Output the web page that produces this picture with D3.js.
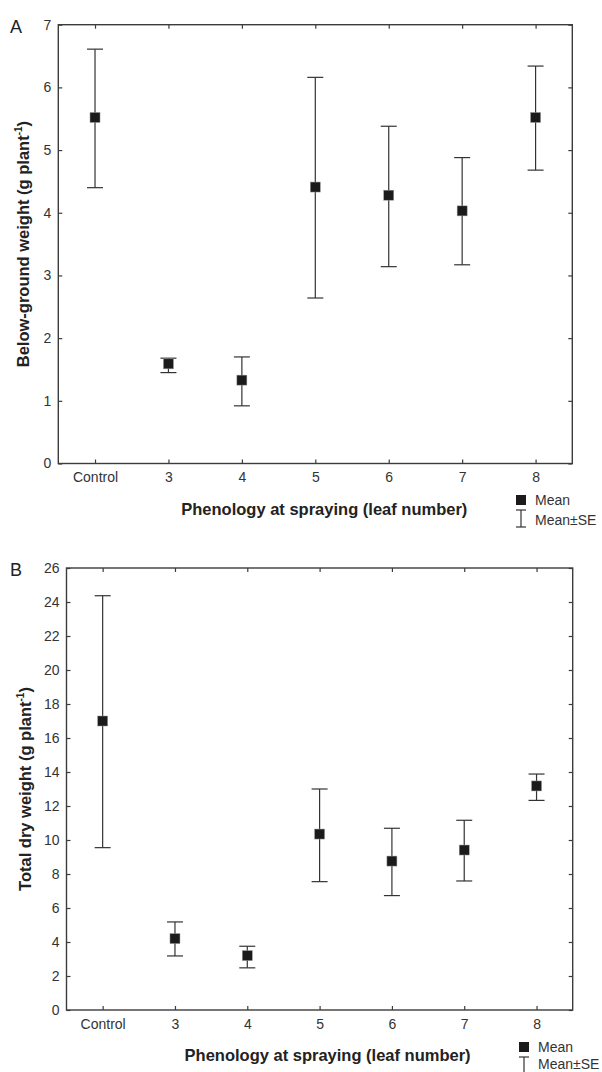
<!DOCTYPE html>
<html>
<head>
<meta charset="utf-8">
<script src="https://cdn.jsdelivr.net/npm/d3@7"></script>
<style>
  body { margin: 0; background: #fff; }
  svg { display: block; font-family: Arial, "Liberation Sans", sans-serif; }
  .tick text { fill: #333; font-size: 14px; }
  .tick line { stroke: #3c3c3c; stroke-width: 1.2; }
  .axis path.domain { display: none; }
</style>
</head>
<body>
<svg id="chart" width="602" height="1072"></svg>
<script>
// categories on the x axis (leaf number at spraying)
var categories = ['Control', '3', '4', '5', '6', '7', '8'];

// panel A: below-ground weight
var belowMean = [5.52, 1.59, 1.33, 4.41, 4.28, 4.03, 5.52];
var belowLow  = [4.40, 1.45, 0.92, 2.64, 3.14, 3.17, 4.68];
var belowHigh = [6.61, 1.68, 1.70, 6.16, 5.38, 4.88, 6.34];
var belowTicks = [0, 1, 2, 3, 4, 5, 6, 7];

// panel B: total dry weight
var totalMean = [17.0, 4.2, 3.2, 10.35, 8.76, 9.41, 13.18];
var totalLow  = [9.55, 3.18, 2.48, 7.55, 6.73, 7.59, 12.33];
var totalHigh = [24.37, 5.18, 3.75, 13.0, 10.69, 11.16, 13.88];
var totalTicks = [0, 2, 4, 6, 8, 10, 12, 14, 16, 18, 20, 22, 24, 26];

var svg = d3.select('#chart');

function drawPanel(p) {
    var x = d3.scalePoint().domain(categories).range([p.left, p.right]).padding(0.5);
    var y = d3.scaleLinear().domain([0, p.ticks[p.ticks.length - 1]]).range([p.bottom, p.top]);

    var g = svg.append('g');

    // ticks on all four sides, pointing inward
    g.append('g').attr('class', 'axis')
        .attr('transform', 'translate(' + p.left + ',0)')
        .call(d3.axisLeft(y).tickValues(p.ticks).tickFormat(d3.format('d'))
            .tickSizeInner(-4).tickSizeOuter(0).tickPadding(7));
    g.append('g').attr('class', 'axis')
        .attr('transform', 'translate(' + p.right + ',0)')
        .call(d3.axisRight(y).tickValues(p.ticks).tickSizeInner(-4).tickSizeOuter(0).tickFormat(''));
    g.append('g').attr('class', 'axis')
        .attr('transform', 'translate(0,' + p.bottom + ')')
        .call(d3.axisBottom(x).tickSizeInner(-4).tickSizeOuter(0).tickPadding(9));
    g.append('g').attr('class', 'axis')
        .attr('transform', 'translate(0,' + p.top + ')')
        .call(d3.axisTop(x).tickSizeInner(-4).tickSizeOuter(0).tickFormat(''));

    g.append('rect')
        .attr('x', p.left).attr('y', p.top)
        .attr('width', p.right - p.left).attr('height', p.bottom - p.top)
        .attr('fill', 'none').attr('stroke', '#3c3c3c').attr('stroke-width', 1.4);

    var rows = categories.map(function(c, i) {
        return {cat: c, mean: p.mean[i], low: p.low[i], high: p.high[i]};
    });

    var pt = g.selectAll('g.pt').data(rows).enter().append('g').attr('class', 'pt');
    pt.append('line')
        .attr('x1', function(d) { return x(d.cat); })
        .attr('x2', function(d) { return x(d.cat); })
        .attr('y1', function(d) { return y(d.low); })
        .attr('y2', function(d) { return y(d.high); })
        .attr('stroke', '#333').attr('stroke-width', 1.2);
    ['low', 'high'].forEach(function(k) {
        pt.append('line')
            .attr('x1', function(d) { return x(d.cat) - 8; })
            .attr('x2', function(d) { return x(d.cat) + 8; })
            .attr('y1', function(d) { return y(d[k]); })
            .attr('y2', function(d) { return y(d[k]); })
            .attr('stroke', '#333').attr('stroke-width', 1.2);
    });
    pt.append('rect')
        .attr('x', function(d) { return x(d.cat) - 5; })
        .attr('y', function(d) { return y(d.mean) - 5; })
        .attr('width', 10).attr('height', 10)
        .attr('fill', '#1c1a1b').attr('stroke', '#999').attr('stroke-width', 0.5);

    // titles
    g.append('text')
        .attr('x', (p.left + p.right) / 2 + p.xTitleShift).attr('y', p.bottom + 51)
        .attr('text-anchor', 'middle').attr('font-weight', 'bold').attr('font-size', 16.5).attr('fill', '#222')
        .text('Phenology at spraying (leaf number)');

    var yt = g.append('text')
        .attr('transform', 'translate(' + p.yTitleX + ',' + ((p.top + p.bottom) / 2) + ') rotate(-90)')
        .attr('text-anchor', 'middle').attr('font-weight', 'bold').attr('font-size', 16.5).attr('fill', '#222');
    yt.append('tspan').text(p.yTitle + ' (g plant');
    yt.append('tspan').attr('dy', -7).attr('font-size', 10).text('-1');
    yt.append('tspan').attr('dy', 7).text(')');

    g.append('text')
        .attr('x', 10).attr('y', p.top + 8)
        .attr('font-size', 18).attr('fill', '#222')
        .text(p.letter);

    // legend
    var lx = p.legendX, ly = p.legendY;
    g.append('rect').attr('x', lx).attr('y', ly).attr('width', 10).attr('height', 10).attr('fill', '#1c1a1b');
    g.append('text').attr('x', lx + 19).attr('y', ly + 10).attr('font-size', 14).attr('fill', '#333').text('Mean');
    var sx = lx + 5, st = ly + 15;
    g.append('line').attr('x1', sx).attr('x2', sx).attr('y1', st).attr('y2', st + 17).attr('stroke', '#333').attr('stroke-width', 1.2);
    g.append('line').attr('x1', sx - 5).attr('x2', sx + 5).attr('y1', st).attr('y2', st).attr('stroke', '#333').attr('stroke-width', 1.2);
    if (p.bottomCap) {
        g.append('line').attr('x1', sx - 5).attr('x2', sx + 5).attr('y1', st + 17).attr('y2', st + 17).attr('stroke', '#333').attr('stroke-width', 1.2);
    }
    g.append('text').attr('x', lx + 19).attr('y', ly + p.seY).attr('font-size', 14).attr('fill', '#333').text('Mean\u00b1SE');
}

drawPanel({
    letter: 'A', left: 58.3, right: 572.3, top: 24.7, bottom: 463.5,
    ticks: belowTicks, mean: belowMean, low: belowLow, high: belowHigh,
    yTitle: 'Below-ground weight', yTitleX: 29, xTitleShift: 9,
    legendX: 516, legendY: 495, seY: 30, bottomCap: true
});

drawPanel({
    letter: 'B', left: 66.5, right: 572.7, top: 568, bottom: 1010,
    ticks: totalTicks, mean: totalMean, low: totalLow, high: totalHigh,
    yTitle: 'Total dry weight', yTitleX: 31, xTitleShift: 8,
    legendX: 519, legendY: 1042, seY: 27, bottomCap: false
});
</script>
</body>
</html>
